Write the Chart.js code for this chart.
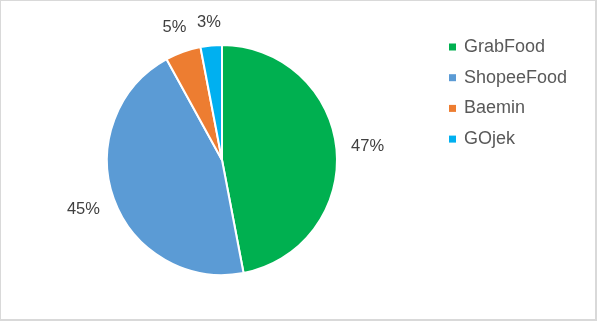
<!DOCTYPE html>
<html>
<head>
<meta charset="utf-8">
<script src="https://cdn.jsdelivr.net/npm/chart.js@4"></script>
<style>
  html, body { margin: 0; padding: 0; background: #fff; }
  #wrap { width: 597px; height: 321px; box-sizing: border-box; border: 1px solid #d9d9d9; border-right-width: 2px; border-bottom-width: 2px; }
</style>
</head>
<body>
<div id="wrap"><canvas id="pie" width="594" height="318"></canvas></div>
<script>
const categories = ["GrabFood", "ShopeeFood", "Baemin", "GOjek"];
const shares = [47, 45, 5, 3];
const colors = ["#00B050", "#5B9BD5", "#ED7D31", "#00B0F0"];

// percent labels just outside each slice, box kept a fixed gap from the rim
const outsideLabels = {
    id: 'outsideLabels',
    afterDatasetsDraw(chart) {
        const ctx = chart.ctx;
        const meta = chart.getDatasetMeta(0);
        ctx.save();
        ctx.font = '16.5px "Liberation Sans", Arial, sans-serif';
        ctx.fillStyle = '#404040';
        ctx.textAlign = 'center';
        ctx.textBaseline = 'middle';
        meta.data.forEach((arc, i) => {
            const p = arc.getProps(['x', 'y', 'startAngle', 'endAngle', 'outerRadius'], true);
            const mid = (p.startAngle + p.endAngle) / 2;
            const txt = shares[i] + '%';
            const halfW = ctx.measureText(txt).width / 2;
            const c = Math.cos(mid), s = Math.sin(mid);
            const r = p.outerRadius + 14 + Math.abs(c) * halfW + Math.abs(s) * 8;
            ctx.fillText(txt, p.x + c * r, p.y + s * r);
        });
        ctx.restore();
    }
};

// legend on the right, square markers
const sideLegend = {
    id: 'sideLegend',
    afterDraw(chart) {
        const ctx = chart.ctx;
        ctx.save();
        ctx.font = '18px "Liberation Sans", Arial, sans-serif';
        ctx.textBaseline = 'middle';
        categories.forEach((name, i) => {
            const y = 46 + i * 30.7;
            ctx.fillStyle = colors[i];
            ctx.fillRect(448, y - 3.5, 7, 7);
            ctx.fillStyle = '#595959';
            ctx.fillText(name, 463, y);
        });
        ctx.restore();
    }
};

new Chart(document.getElementById('pie'), {
    type: 'pie',
    data: {
        labels: categories,
        datasets: [{
            data: shares,
            backgroundColor: colors,
            borderColor: '#ffffff',
            borderWidth: 2
        }]
    },
    options: {
        responsive: false,
        animation: false,
        layout: {
            padding: { left: 105, right: 257, top: 43, bottom: 43 }
        },
        plugins: {
            legend: { display: false },
            tooltip: { enabled: false }
        }
    },
    plugins: [outsideLabels, sideLegend]
});
</script>
</body>
</html>
